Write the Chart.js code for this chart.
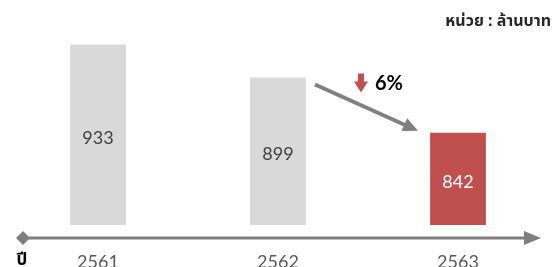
<!DOCTYPE html>
<html>
<head>
<meta charset="utf-8">
<script src="https://cdn.jsdelivr.net/npm/chart.js@4/dist/chart.umd.min.js"></script>
<style>
  html, body { margin: 0; padding: 0; background: #fff; }
  #wrap { width: 556px; height: 267px; }
</style>
</head>
<body>
<div id="wrap"><canvas id="chart"></canvas></div>
<script>
const years = ['2561', '2562', '2563'];
const values = [933, 899, 842];
const barColors = ['#d9d9d9', '#d9d9d9', '#c0504d'];
const labelColors = ['#404040', '#404040', '#ffffff'];
const unitText = 'หน่วย : ล้านบาท';
const axisTitle = 'ปี';
const changeText = '6%';

const thaiFont = "'Noto Sans Thai', 'Noto Sans', 'DejaVu Sans', sans-serif";
const numFont = "Lato, 'Open Sans', sans-serif";

// draws the value labels, arrow axis, unit and the change annotation
const extras = {
  id: 'extras',
  afterDatasetsDraw(chart) {
    const ctx = chart.ctx;
    const ys = chart.scales.y;
    const xs = chart.scales.x;
    const bottom = chart.chartArea.bottom;

    ctx.save();
    ctx.textAlign = 'center';
    ctx.textBaseline = 'middle';
    ctx.font = '18px ' + numFont;
    values.forEach((v, i) => {
      const top = ys.getPixelForValue(v);
      ctx.fillStyle = labelColors[i];
      ctx.fillText(String(v), xs.getPixelForValue(i), (top + bottom) / 2 + 3);
    });

    // axis line with diamond and arrow head
    const ay = bottom + 13;
    ctx.strokeStyle = '#7f7f7f';
    ctx.fillStyle = '#7f7f7f';
    ctx.lineWidth = 3;
    ctx.beginPath();
    ctx.moveTo(23, ay);
    ctx.lineTo(528, ay);
    ctx.stroke();
    ctx.beginPath();
    ctx.moveTo(23 - 7, ay);
    ctx.lineTo(23, ay - 7);
    ctx.lineTo(23 + 7, ay);
    ctx.lineTo(23, ay + 7);
    ctx.closePath();
    ctx.fill();
    ctx.beginPath();
    ctx.moveTo(524, ay - 7);
    ctx.lineTo(541, ay);
    ctx.lineTo(524, ay + 7);
    ctx.closePath();
    ctx.fill();

    ctx.fillStyle = '#000';
    ctx.font = 'bold 17px ' + thaiFont;
    ctx.fillText(axisTitle, 22, 262);

    ctx.textAlign = 'right';
    ctx.font = 'bold 16px ' + thaiFont;
    ctx.fillStyle = '#262626';
    ctx.fillText(unitText, 551, 23);

    // trend arrow between 2562 and 2563
    const x2 = xs.getPixelForValue(1);
    const x3 = xs.getPixelForValue(2);
    const sx = x2 + 37, sy = ys.getPixelForValue(values[1]) + 7;
    const ex = x3 - 40, ey = ys.getPixelForValue(values[2]) - 2;
    const ang = Math.atan2(ey - sy, ex - sx);
    ctx.strokeStyle = '#808080';
    ctx.fillStyle = '#808080';
    ctx.lineWidth = 4;
    ctx.beginPath();
    ctx.moveTo(sx, sy);
    ctx.lineTo(ex - 10 * Math.cos(ang), ey - 10 * Math.sin(ang));
    ctx.stroke();
    ctx.beginPath();
    ctx.moveTo(ex, ey);
    ctx.lineTo(ex - 15 * Math.cos(ang) + 7 * Math.sin(ang), ey - 15 * Math.sin(ang) - 7 * Math.cos(ang));
    ctx.lineTo(ex - 15 * Math.cos(ang) - 7 * Math.sin(ang), ey - 15 * Math.sin(ang) + 7 * Math.cos(ang));
    ctx.closePath();
    ctx.fill();

    // red down icon
    const ix = (x2 + x3) / 2 - 7, iy = sy - 11;
    ctx.fillStyle = '#c0504d';
    ctx.beginPath();
    ctx.moveTo(ix - 3, iy);
    ctx.lineTo(ix + 3, iy);
    ctx.lineTo(ix + 3, iy + 8);
    ctx.lineTo(ix + 7, iy + 8);
    ctx.lineTo(ix, iy + 19);
    ctx.lineTo(ix - 7, iy + 8);
    ctx.lineTo(ix - 3, iy + 8);
    ctx.closePath();
    ctx.fill();

    ctx.textAlign = 'left';
    ctx.fillStyle = '#000';
    ctx.font = 'bold 20px ' + numFont;
    ctx.fillText(changeText, ix + 14, iy + 10);
    ctx.restore();
  }
};

new Chart(document.getElementById('chart'), {
  type: 'bar',
  data: {
    labels: years,
    datasets: [{
      data: values,
      backgroundColor: barColors,
      categoryPercentage: 1,
      barPercentage: 0.31
    }]
  },
  options: {
    responsive: true,
    maintainAspectRatio: false,
    animation: false,
    layout: { padding: { left: 8, right: 8, top: 30, bottom: -32 } },
    plugins: {
      legend: { display: false },
      tooltip: { enabled: false }
    },
    scales: {
      x: {
        grid: { display: false, drawTicks: false },
        border: { display: false },
        ticks: {
          color: '#595959',
          padding: 28,
          font: { family: numFont, size: 18, lineHeight: 1 }
        }
      },
      y: {
        display: false,
        min: 747,
        max: 948
      }
    }
  },
  plugins: [extras]
});
</script>
</body>
</html>
